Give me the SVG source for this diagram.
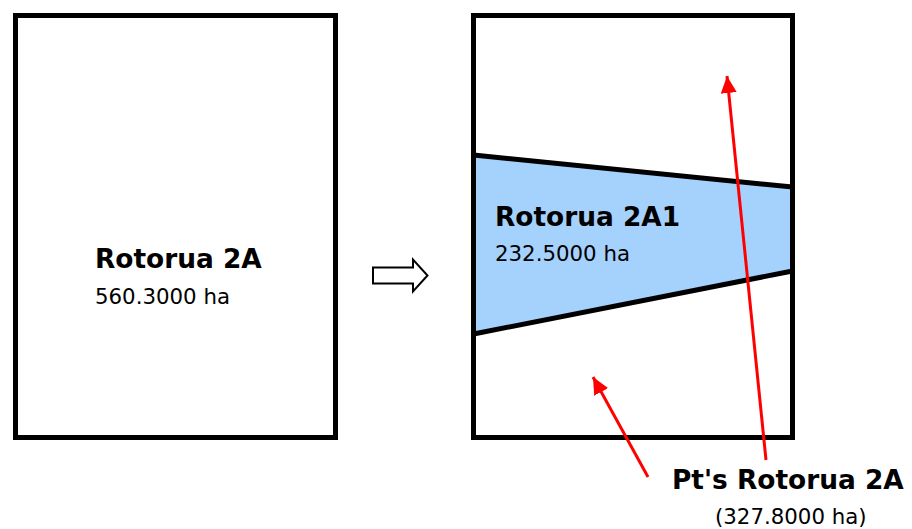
<svg xmlns="http://www.w3.org/2000/svg" width="912" height="529" viewBox="0 0 912 529">
<style>
.box{fill:#fff;stroke:#000;stroke-width:5}
.t{font-family:"DejaVu Sans",Verdana,sans-serif;fill:#000}
.b{font-weight:bold;font-size:26.4px}
.r{font-size:21.3px}
.red{stroke:#f00;stroke-width:3;fill:none}
</style>
<defs>
<marker id="ah" markerUnits="userSpaceOnUse" markerWidth="18" markerHeight="16" refX="17" refY="8" orient="auto">
<path d="M0,0 L17,8 L0,16 Z" fill="#f00"/>
</marker>
</defs>
<rect width="912" height="529" fill="#fff"/>
<g id="parent">
<rect class="box" x="15.5" y="15.5" width="320" height="422"/>
<text class="t b" x="95" y="268">Rotorua 2A</text>
<text class="t r" x="95" y="304">560.3000 ha</text>
</g>
<g id="transition">
<path d="M373,267.5 H413 V259.5 L427.5,275.5 L413,291.5 V283.5 H373 Z" fill="#fff" stroke="#000" stroke-width="2"/>
</g>
<g id="result">
<rect class="box" x="473.5" y="15.5" width="319" height="422"/>
</g>
<g id="rotorua2a1">
<path d="M473.5,155 L792.5,187 L792.5,271 L473.5,334 Z" fill="#a5d1fd"/>
<line x1="473.5" y1="155" x2="792.5" y2="187" stroke="#000" stroke-width="5"/>
<line x1="473.5" y1="334" x2="792.5" y2="271" stroke="#000" stroke-width="5"/>
<rect x="473.5" y="15.5" width="319" height="422" fill="none" stroke="#000" stroke-width="5"/>
<text class="t b" x="495" y="226">Rotorua 2A1</text>
<text class="t r" x="495" y="261">232.5000 ha</text>
</g>
<g id="pts">
<text class="t b" x="672" y="489">Pt's Rotorua 2A</text>
<text class="t r" x="715" y="524">(327.8000 ha)</text>
</g>
<g id="connectors">
<line class="red" x1="766" y1="460" x2="727" y2="76" marker-end="url(#ah)"/>
<line class="red" x1="648" y1="477" x2="593" y2="377" marker-end="url(#ah)"/>
</g>
</svg>
